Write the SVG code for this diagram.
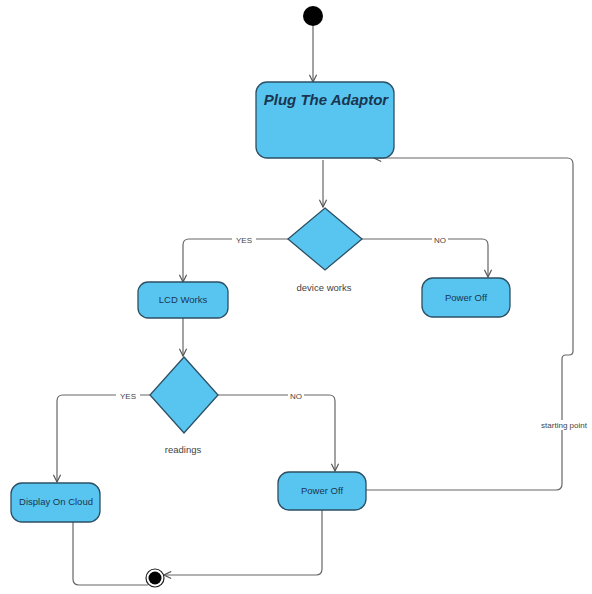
<svg xmlns="http://www.w3.org/2000/svg" width="592" height="594" viewBox="0 0 592 594">
  <defs>
    <marker id="open" viewBox="0 0 10 10" refX="9" refY="5" markerWidth="9" markerHeight="9" orient="auto" markerUnits="userSpaceOnUse">
      <path d="M1 1 L9 5 L1 9" fill="none" stroke="#555" stroke-width="1.3"/>
    </marker>
  </defs>
  <style>
    .state { fill: #58c5f0; stroke: #2d4f63; stroke-width: 1.3; }
    .lbl { font-family: "Liberation Sans", Arial, sans-serif; font-size: 9.5px; fill: #1a3550; text-anchor: middle; }
    .note { font-family: "Liberation Sans", Arial, sans-serif; font-size: 8px; fill: #444; text-anchor: middle; }
    .cap { font-family: "Liberation Sans", Arial, sans-serif; font-size: 9.5px; fill: #444; text-anchor: middle; }
    .edge { fill: none; stroke: #666; stroke-width: 1.2; }
    .bg { fill: #fff; }
  </style>
  <rect width="592" height="594" fill="#fff"/>

  <g id="connectors">
    <path class="edge" d="M313 26 V82" marker-end="url(#open)"/>
    <path class="edge" d="M323 160 V207" marker-end="url(#open)"/>
    <path class="edge" d="M288 239 H189 Q183 239 183 245 V282" marker-end="url(#open)"/>
    <path class="edge" d="M362 239 H482 Q488 239 488 245 V277" marker-end="url(#open)"/>
    <path class="edge" d="M183 318 V356" marker-end="url(#open)"/>
    <path class="edge" d="M150 395 H63 Q57 395 57 401 V482" marker-end="url(#open)"/>
    <path class="edge" d="M218 395 H329 Q335 395 335 401 V471" marker-end="url(#open)"/>
    <path class="edge" d="M73 522 V579 Q73 585 79 585 H148"/>
    <path class="edge" d="M322 510 V569 Q322 575 316 575 H164" marker-end="url(#open)"/>
    <path class="edge" d="M366 490 H556 Q562 490 562 484 V359 Q562 355 566 355 H569 Q573 355 573 351 V164 Q573 158 567 158 H374" marker-end="url(#open)"/>
    <rect class="bg" x="232" y="235" width="24" height="9"/>
    <text class="note" x="244" y="243">YES</text>
    <rect class="bg" x="432" y="235" width="16" height="9"/>
    <text class="note" x="440" y="243">NO</text>
    <rect class="bg" x="116" y="391" width="24" height="9"/>
    <text class="note" x="128" y="399">YES</text>
    <rect class="bg" x="288" y="391" width="16" height="9"/>
    <text class="note" x="296" y="399">NO</text>
    <rect class="bg" x="536" y="420" width="56" height="10"/>
    <text class="note" x="564" y="428">starting point</text>
  </g>

  <g id="start">
    <circle cx="313" cy="16" r="10" fill="#000"/>
  </g>

  <g id="plug-adaptor">
    <rect class="state" x="256" y="82" width="138" height="76" rx="11"/>
    <text x="326" y="105" font-family="Liberation Sans, Arial, sans-serif" font-size="15" font-weight="bold" font-style="italic" fill="#1a3550" text-anchor="middle">Plug The Adaptor</text>
  </g>

  <g id="device-works">
    <polygon class="state" points="325,208 362,239 325,270 288,239"/>
    <text class="cap" x="324" y="291">device works</text>
  </g>

  <g id="lcd-works">
    <rect class="state" x="138" y="282" width="90" height="36" rx="10"/>
    <text class="lbl" x="183" y="303">LCD Works</text>
  </g>

  <g id="power-off-1">
    <rect class="state" x="422" y="278" width="88" height="39" rx="11"/>
    <text class="lbl" x="466" y="301">Power Off</text>
  </g>

  <g id="readings">
    <polygon class="state" points="184,357 218,395 184,433 150,395"/>
    <text class="cap" x="183" y="453">readings</text>
  </g>

  <g id="display-cloud">
    <rect class="state" x="11" y="483" width="89" height="39" rx="11"/>
    <text class="lbl" x="56" y="505">Display On Cloud</text>
  </g>

  <g id="power-off-2">
    <rect class="state" x="278" y="472" width="88" height="38" rx="11"/>
    <text class="lbl" x="322" y="494">Power Off</text>
  </g>

  <g id="end">
    <circle cx="155" cy="578" r="9" fill="none" stroke="#222" stroke-width="1.2"/>
    <circle cx="155" cy="578" r="6.5" fill="#000"/>
  </g>
</svg>
